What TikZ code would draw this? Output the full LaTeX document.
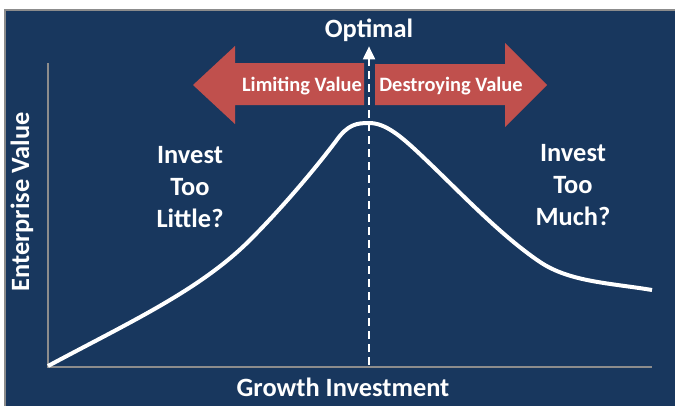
\documentclass[tikz,border=0pt]{standalone}
\usepackage{fontspec}
\setmainfont{Carlito}
\usetikzlibrary{arrows.meta}

\definecolor{panelblue}{HTML}{18375E}
\definecolor{arrowred}{HTML}{C0504D}
\definecolor{axisgray}{HTML}{8C8C8C}

\begin{document}
\begin{tikzpicture}[x=1bp,y=-1bp,>={Triangle[width=12bp,length=13bp]},
    big label/.style={text=white,inner sep=0pt,align=center,font=\bfseries\fontsize{26.5}{32.5}\selectfont},
    arrow label/.style={text=white,inner sep=0pt,font=\bfseries\fontsize{20.5}{24}\selectfont},
    red arrow/.style={fill=arrowred},
    axis line/.style={draw=axisgray,line width=1.5bp},
    value curve/.style={draw=white,line width=4bp,line join=round}]

    \useasboundingbox (0,0) rectangle (675,406);
    \fill[panelblue] (5,10) rectangle (675,406);
    \draw[axisgray,line width=1.5bp] (5,406) -- (5,10) -- (675,10);

    % axes
    \draw[axis line] (48,63) -- (48,367) -- (652,367);

    % value vs. investment
    \draw[value curve] (48,366) .. controls (130,322) and (200,290) .. (250,240)
        .. controls (285,205) and (318,165) .. (336,141)
        .. controls (348,124) and (357,123) .. (369,123)
        .. controls (385,123) and (400,135) .. (423,157)
        .. controls (460,192) and (500,235) .. (540,262)
        .. controls (570,282) and (610,283) .. (652,290);

    % the two block arrows
    \fill[red arrow] (364,63) -- (235,63) -- (235,46) -- (193,85) -- (235,124) -- (235,105) -- (364,105) -- cycle;
    \fill[red arrow] (375,64) -- (505,64) -- (505,43) -- (547,85) -- (505,127) -- (505,105) -- (375,105) -- cycle;

    \node[arrow label,anchor=base] (limit) at (302,91) {Limiting Value};
    \node[arrow label,anchor=base] (destroy) at (451,91) {Destroying Value};

    \node[big label,anchor=base] (optimal) at (369,37) {Optimal};
    \node[big label] (little) at (190,187) {Invest\\Too\\Little?};
    \node[big label] (much) at (573,185) {Invest\\Too\\Much?};

    \node[big label,anchor=base] (xlabel) at (343,396) {Growth Investment};
    \node[big label,anchor=base,rotate=90] (ylabel) at (29,202) {Enterprise Value};

    \coordinate (foot) at (369,365);
    \draw[->,white,line width=2bp,dash pattern=on 8bp off 5bp,shorten >=5bp] (foot) -- (optimal.south);
\end{tikzpicture}
\end{document}
